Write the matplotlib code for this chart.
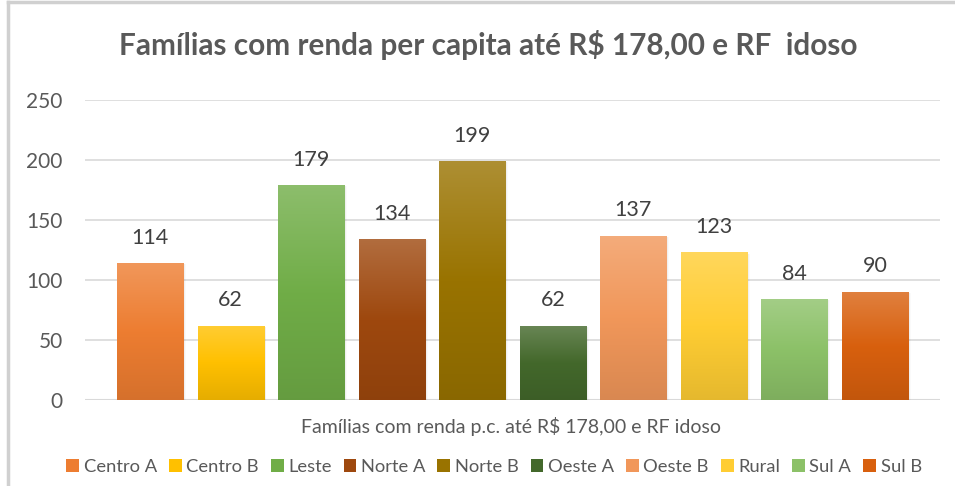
import numpy as np
import matplotlib
matplotlib.use("Agg")
import matplotlib.pyplot as plt
from matplotlib.colors import to_rgb
from matplotlib.patches import Rectangle
from matplotlib.lines import Line2D

plt.rcParams['font.family'] = ['Lato', 'DejaVu Sans']

title = "Famílias com renda per capita até R$ 178,00 e RF  idoso"
category = "Famílias com renda p.c. até R$ 178,00 e RF idoso"
series = ["Centro A", "Centro B", "Leste", "Norte A", "Norte B",
          "Oeste A", "Oeste B", "Rural", "Sul A", "Sul B"]
values = [114, 62, 179, 134, 199, 62, 137, 123, 84, 90]
colors = ["#ED7D31", "#FFC000", "#70AD47", "#9E480E", "#997300",
          "#43682B", "#F1975A", "#FFCD33", "#8CC168", "#D8600E"]
yticks = [0, 50, 100, 150, 200, 250]

W, H = 955, 486
fig = plt.figure(figsize=(W / 100, H / 100), dpi=100)
fig.patch.set_facecolor("white")

# outer frame (top and left edges)
fig.add_artist(Line2D([8 / W, 8 / W], [0, 1 - 2 / H], transform=fig.transFigure,
                      color="#D0D0D0", lw=2.5))
fig.add_artist(Line2D([8 / W, 1], [1 - 2 / H, 1 - 2 / H], transform=fig.transFigure,
                      color="#D0D0D0", lw=2.5))

ax = fig.add_axes([85 / W, 86 / H, (940 - 85) / W, 300 / H])
ax.set_ylim(0, 250)
margin = 0.807
ax.set_xlim(-margin, len(values) - 1 + margin)
ax.set_yticks(yticks)
ax.set_xticks([])
for s in ax.spines.values():
    s.set_visible(False)
ax.tick_params(axis="y", length=0, pad=16, labelsize=15, labelcolor="#595959")
ax.grid(axis="y", color="#D9D9D9", lw=1.2)
ax.set_axisbelow(True)
ax.axhline(0, color="#D9D9D9", lw=1.5, zorder=1)


def shade(c, f):
    return np.clip(np.array(to_rgb(c)) * f, 0, 1)


def tint(c, f):
    c = np.array(to_rgb(c))
    return c + (1 - c) * f


bw = 66 / 80.5
for i, (v, c) in enumerate(zip(values, colors)):
    x0 = i - bw / 2
    # soft shadow
    for k, a in enumerate([0.06, 0.04, 0.02]):
        d = 0.02 * (k + 1)
        ax.add_patch(Rectangle((x0 + d * 0.6, -0.5), bw, v - 0.5, facecolor="black",
                               alpha=a, lw=0, zorder=2))
    # vertical gradient: darker at bottom, base in the middle, lighter on top
    t = np.linspace(0, 1, 256)[:, None]
    bottom, mid, top = shade(c, 0.9), np.array(to_rgb(c)), tint(c, 0.2)
    grad = np.where(t < 0.5, bottom + (mid - bottom) * (t / 0.5),
                    mid + (top - mid) * ((t - 0.5) / 0.5))
    img = grad[:, None, :]
    im = ax.imshow(img, extent=(x0, x0 + bw, 0, v), origin="lower",
                   aspect="auto", zorder=3, interpolation="bilinear")
    rect = Rectangle((x0, 0), bw, v, transform=ax.transData, facecolor="none", lw=0)
    ax.add_patch(rect)
    im.set_clip_path(rect)
    ax.text(i, v + 13, str(v), ha="center", va="bottom", fontsize=15.5,
            color="#404040", zorder=4)

ax.set_xlim(-margin, len(values) - 1 + margin)
ax.set_ylim(0, 250)

fig.text(488 / W, 1 - 45 / H, title, ha="center", va="center", fontsize=21.4,
         fontweight="bold", color="#595959")
fig.text(511 / W, 1 - 426 / H, category, ha="center", va="center", fontsize=14,
         color="#595959")

handles = [Rectangle((0, 0), 1, 1, facecolor=c, edgecolor="none") for c in colors]
fig.legend(handles, series, loc="center", bbox_to_anchor=(494 / W, 1 - 467 / H),
           ncol=len(series), frameon=False, fontsize=13.2, labelcolor="#595959",
           handlelength=0.7, handleheight=0.7, handletextpad=0.25, columnspacing=0.65)

fig.savefig("out.png", dpi=100, facecolor="white")
